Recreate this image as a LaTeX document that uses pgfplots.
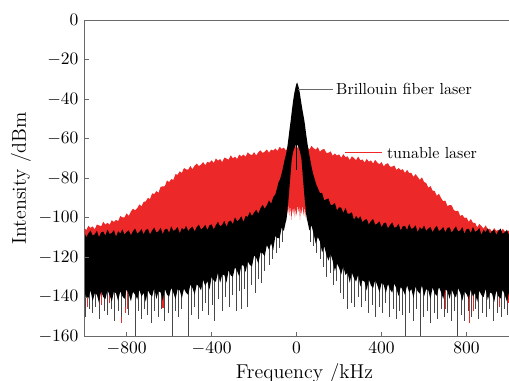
\documentclass[border=0pt]{standalone}
\usepackage{fontspec}
\usepackage{pgfplots}
\pgfplotsset{compat=1.18}
\definecolor{redl}{RGB}{237,40,40}
\definecolor{axgray}{RGB}{105,105,105}
\begin{document}
\begin{tikzpicture}
\begin{axis}[name=ax, scale only axis, width=276pt, height=197.9pt,
  xmin=-1000, xmax=1078, ymin=-160, ymax=0,
  xtick={-800,-400,0,400,800}, ytick={-160,-140,-120,-100,-80,-60,-40,-20,0},
  xtick pos=lower, ytick pos=left,
  axis line style={axgray, line width=0.6pt},
  tick style={axgray, line width=0.6pt}, major tick length=3pt,
  tick label style={black, font=\fontsize{11}{13}\selectfont},
  xlabel={Frequency /kHz}, ylabel={Intensity /dBm},
  every axis x label/.style={at={(axis description cs:0.499,0)}, anchor=base, yshift=-26.2pt, inner sep=0pt, font=\fontsize{12.5}{15}\selectfont},
  every axis y label/.style={at={(axis description cs:-0.1317,0.5)}, rotate=90, anchor=base, inner sep=0pt, font=\fontsize{12.5}{15}\selectfont},
  axis on top, clip=true]
% tunable laser (red)
\addplot[draw=none, fill=redl] coordinates {
(-1000,-104.9) (-990,-106.2) (-980,-104.0) (-970,-105.1) (-960,-104.3) (-950,-105.8) (-940,-103.4) (-930,-103.8) (-920,-104.3) (-910,-102.0) (-900,-103.4) (-890,-102.5) (-880,-103.5) (-870,-101.2) (-860,-102.1) (-850,-101.0) (-840,-101.7) (-830,-99.1) (-820,-99.7) (-810,-99.7) (-800,-97.8) (-790,-99.0) (-780,-96.8) (-770,-95.4) (-760,-96.2) (-750,-95.1) (-740,-93.2) (-730,-94.2) (-720,-91.9) (-710,-91.7) (-700,-89.9) (-690,-90.5) (-680,-87.6) (-670,-88.0) (-660,-86.5) (-650,-87.3) (-640,-84.3) (-630,-84.1) (-620,-84.0) (-610,-81.1) (-600,-81.9) (-590,-80.4) (-580,-80.8) (-570,-77.9) (-560,-78.2) (-550,-76.5) (-540,-77.3) (-530,-74.8) (-520,-75.5) (-510,-75.6) (-500,-73.8) (-490,-75.4) (-480,-73.6) (-470,-72.6) (-460,-73.8) (-450,-73.1) (-440,-71.8) (-430,-73.4) (-420,-71.7) (-410,-72.1) (-400,-70.9) (-390,-72.2) (-380,-70.0) (-370,-71.1) (-360,-70.3) (-350,-71.8) (-340,-69.5) (-330,-70.0) (-320,-70.6) (-310,-68.4) (-300,-69.9) (-290,-69.1) (-280,-70.2) (-270,-68.0) (-260,-69.0) (-250,-68.0) (-240,-69.1) (-230,-66.9) (-220,-67.9) (-210,-68.3) (-200,-66.8) (-190,-68.5) (-180,-66.8) (-170,-65.9) (-160,-67.2) (-150,-66.6) (-140,-65.4) (-130,-67.1) (-120,-65.5) (-110,-66.0) (-100,-64.9) (-90,-66.2) (-80,-64.1) (-70,-65.2) (-60,-64.5) (-50,-66.0) (-40,-63.8) (-30,-64.4) (-20,-65.1) (-10,-63.1) (0,-64.7) (10,-64.2) (20,-65.5) (30,-63.6) (40,-64.8) (50,-64.1) (60,-65.5) (70,-63.6) (80,-64.8) (90,-65.5) (100,-64.3) (110,-66.6) (120,-65.5) (130,-65.2) (140,-67.1) (150,-67.1) (160,-66.4) (170,-68.6) (180,-67.5) (190,-68.5) (200,-67.9) (210,-69.6) (220,-67.8) (230,-69.3) (240,-68.9) (250,-70.8) (260,-68.9) (270,-69.8) (280,-70.8) (290,-69.0) (300,-70.9) (310,-70.5) (320,-72.0) (330,-70.2) (340,-71.6) (350,-71.0) (360,-72.5) (370,-70.7) (380,-72.1) (390,-72.9) (400,-71.8) (410,-74.0) (420,-72.8) (430,-72.4) (440,-74.2) (450,-74.1) (460,-73.5) (470,-75.8) (480,-74.8) (490,-75.9) (500,-75.4) (510,-77.3) (520,-75.7) (530,-77.4) (540,-77.2) (550,-79.3) (560,-77.9) (570,-79.3) (580,-80.8) (590,-79.5) (600,-81.9) (610,-82.4) (620,-84.8) (630,-83.9) (640,-86.2) (650,-86.5) (660,-88.8) (670,-87.8) (680,-90.0) (690,-91.6) (700,-91.3) (710,-94.1) (720,-93.5) (730,-93.7) (740,-96.1) (750,-96.6) (760,-96.4) (770,-99.1) (780,-98.5) (790,-100.0) (800,-99.9) (810,-102.0) (820,-100.6) (830,-102.5) (840,-102.5) (850,-104.8) (860,-103.1) (870,-104.2) (880,-105.4) (890,-103.8) (900,-105.9) (910,-105.5) (920,-107.0) (930,-105.2) (940,-106.6) (950,-106.0) (960,-107.4) (970,-105.5) (980,-106.8) (990,-107.5) (1000,-106.3) (1010,-107.2)
(1010,-132) (800,-131.5) (600,-131) (400,-128) (300,-126) (227,-122) (148,-113) (100,-107) (60,-100) (48,-97) (44,-96) (40,-100) (36,-94) (32,-99) (28,-93) (24,-98) (20,-95) (16,-101) (12,-94) (8,-97) (4,-93) (0,-99) (-4,-95) (-8,-100) (-12,-94) (-16,-98) (-20,-95) (-24,-101) (-28,-94) (-32,-99) (-36,-93) (-40,-98) (-44,-96) (-48,-97) (-60,-100) (-100,-106) (-135,-111) (-210,-118) (-290,-123) (-370,-126) (-526,-132) (-700,-133) (-1000,-134)
} -- cycle;
% red spikes below the noise floor
\addplot[redl, line width=0.7pt, unbounded coords=jump] coordinates {
(-997,-130) (-997,-147) (-997,nan) (-986,-130) (-986,-145) (-986,nan) (-918,-130) (-918,-144) (-918,nan) (-880,-130) (-880,-143) (-880,nan) (-826,-130) (-826,-153) (-826,nan) (-806,-130) (-806,-148) (-806,nan) (-795,-130) (-795,-146) (-795,nan) (-629,-130) (-629,-145.5) (-629,nan) (702,-130) (702,-146) (702,nan) (815,-130) (815,-153) (815,nan) (832,-130) (832,-147) (832,nan) (957,-130) (957,-145) (957,nan) (996,-130) (996,-143)
};
% black spikes below the noise floor
\addplot[black!72, line width=0.6pt, unbounded coords=jump] coordinates {
(-992,-130) (-992,-150) (-992,nan) (-975,-130) (-975,-146) (-975,nan) (-960,-130) (-960,-148) (-960,nan) (-945,-130) (-945,-145) (-945,nan) (-930,-130) (-930,-151) (-930,nan) (-905,-130) (-905,-147) (-905,nan) (-890,-130) (-890,-149) (-890,nan) (-870,-130) (-870,-146) (-870,nan) (-855,-130) (-855,-152) (-855,nan) (-840,-130) (-840,-147) (-840,nan) (-822,-130) (-822,-150) (-822,nan) (-805,-130) (-805,-145) (-805,nan) (-790,-130) (-790,-149) (-790,nan) (-756,-130) (-756,-160) (-756,nan) (-745,-130) (-745,-147) (-745,nan) (-730,-130) (-730,-151) (-730,nan) (-715,-130) (-715,-146) (-715,nan) (-700,-130) (-700,-149) (-700,nan) (-685,-130) (-685,-153) (-685,nan) (-668,-130) (-668,-147) (-668,nan) (-650,-130) (-650,-150) (-650,nan) (-635,-130) (-635,-146) (-635,nan) (-620,-130) (-620,-152) (-620,nan) (-605,-130) (-605,-148) (-605,nan) (-585,-130) (-585,-160) (-585,nan) (-570,-130) (-570,-147) (-570,nan) (-555,-130) (-555,-150) (-555,nan) (-540,-130) (-540,-146) (-540,nan) (-508,-128) (-508,-160) (-508,nan) (-495,-128) (-495,-149) (-495,nan) (-480,-127) (-480,-145) (-480,nan) (-462,-127) (-462,-151) (-462,nan) (-445,-126) (-445,-147) (-445,nan) (-430,-125) (-430,-143) (-430,nan) (-415,-125) (-415,-149) (-415,nan) (-398,-124) (-398,-144) (-398,nan) (-385,-124) (-385,-152) (-385,nan) (-368,-123) (-368,-141) (-368,nan) (-350,-122) (-350,-147) (-350,nan) (-335,-122) (-335,-140) (-335,nan) (-318,-121) (-318,-145) (-318,nan) (-300,-121) (-300,-139) (-300,nan) (-285,-120) (-285,-147) (-285,nan) (-270,-119) (-270,-137) (-270,nan) (-258,-119) (-258,-146) (-258,nan) (-245,-118) (-245,-136) (-245,nan) (-232,-117) (-232,-145) (-232,nan) (-212,-115) (-212,-134) (-212,nan) (-195,-113) (-195,-138) (-195,nan) (-180,-113) (-180,-131) (-180,nan) (-165,-110) (-165,-133) (-165,nan) (-150,-109) (-150,-127) (-150,nan) (-130,-106) (-130,-124) (-130,nan) (-115,-104) (-115,-121) (-115,nan) (-95,-102) (-95,-118) (-95,nan) (-80,-100) (-80,-115) (-80,nan) (-65,-99) (-65,-112) (-65,nan)
(65,-99) (65,-112) (65,nan) (80,-100) (80,-114) (80,nan) (95,-104) (95,-118) (95,nan) (112,-106) (112,-121) (112,nan) (128,-109) (128,-125) (128,nan) (142,-111) (142,-130) (142,nan) (158,-113) (158,-128) (158,nan) (172,-116) (172,-134) (172,nan) (188,-118) (188,-132) (188,nan) (205,-119) (205,-138) (205,nan) (222,-121) (222,-141) (222,nan) (240,-122) (240,-146) (240,nan) (258,-123) (258,-143) (258,nan) (272,-124) (272,-145) (272,nan) (290,-125) (290,-140) (290,nan) (305,-126) (305,-145) (305,nan) (322,-126) (322,-142) (322,nan) (340,-127) (340,-148) (340,nan) (356,-127) (356,-144) (356,nan) (372,-128) (372,-150) (372,nan) (388,-128) (388,-145) (388,nan) (405,-129) (405,-148) (405,nan) (420,-129) (420,-143) (420,nan) (438,-129) (438,-150) (438,nan) (455,-130) (455,-146) (455,nan) (470,-130) (470,-151) (470,nan) (485,-130) (485,-147) (485,nan) (500,-130) (500,-149) (500,nan) (514,-130) (514,-160) (514,nan) (530,-130) (530,-148) (530,nan) (548,-130) (548,-152) (548,nan) (565,-130) (565,-146) (565,nan) (583,-130) (583,-160) (583,nan) (598,-130) (598,-150) (598,nan) (615,-130) (615,-147) (615,nan) (632,-130) (632,-153) (632,nan) (648,-130) (648,-148) (648,nan) (665,-130) (665,-151) (665,nan) (680,-130) (680,-146) (680,nan) (695,-130) (695,-150) (695,nan) (712,-130) (712,-148) (712,nan) (728,-130) (728,-152) (728,nan) (745,-130) (745,-147) (745,nan) (759,-130) (759,-160) (759,nan) (775,-130) (775,-149) (775,nan) (792,-130) (792,-152) (792,nan) (808,-130) (808,-147) (808,nan) (825,-130) (825,-150) (825,nan) (842,-130) (842,-146) (842,nan) (858,-130) (858,-151) (858,nan) (875,-130) (875,-148) (875,nan) (892,-130) (892,-150) (892,nan) (910,-130) (910,-146) (910,nan) (928,-130) (928,-152) (928,nan) (945,-130) (945,-148) (945,nan) (962,-130) (962,-150) (962,nan) (978,-130) (978,-146) (978,nan) (993,-130) (993,-149)
};
% Brillouin fiber laser (black)
\addplot[draw=none, fill=black] coordinates {
(-1000,-107.1) (-990,-109.8) (-980,-107.9) (-970,-106.4) (-960,-108.9) (-950,-108.3) (-940,-106.5) (-930,-109.7) (-920,-107.3) (-910,-107.0) (-900,-109.0) (-890,-105.9) (-880,-108.2) (-870,-107.6) (-860,-106.2) (-850,-109.5) (-840,-106.8) (-830,-107.9) (-820,-105.8) (-810,-108.5) (-800,-107.1) (-790,-106.3) (-780,-108.8) (-770,-106.7) (-760,-105.4) (-750,-108.0) (-740,-107.1) (-730,-105.7) (-720,-108.3) (-710,-106.1) (-700,-105.6) (-690,-108.3) (-680,-106.4) (-670,-104.9) (-660,-107.4) (-650,-106.8) (-640,-105.0) (-630,-108.2) (-620,-105.8) (-610,-105.5) (-600,-107.5) (-590,-104.3) (-580,-106.6) (-570,-106.0) (-560,-104.6) (-550,-107.8) (-540,-105.1) (-530,-106.1) (-520,-104.1) (-510,-106.7) (-500,-105.3) (-490,-104.4) (-480,-106.9) (-470,-104.7) (-460,-103.4) (-450,-105.9) (-440,-105.0) (-430,-103.5) (-420,-106.1) (-410,-103.8) (-400,-103.3) (-390,-105.8) (-380,-103.7) (-370,-102.0) (-360,-104.3) (-350,-103.5) (-340,-101.5) (-330,-104.5) (-320,-101.9) (-310,-101.4) (-300,-103.2) (-290,-99.7) (-280,-101.8) (-270,-100.8) (-260,-99.2) (-250,-102.1) (-240,-99.0) (-230,-99.5) (-220,-97.0) (-210,-99.1) (-200,-97.3) (-190,-95.9) (-180,-97.9) (-170,-95.2) (-160,-93.4) (-150,-95.4) (-140,-93.6) (-130,-91.2) (-120,-92.9) (-110,-89.5) (-100,-88.2) (-92,-85.0) (-85,-82.0) (-78,-80.5) (-70,-77.5) (-63,-74.0) (-56,-70.5) (-50,-68.0) (-44,-64.5) (-38,-59.5) (-33,-55.0) (-28,-51.0) (-22,-45.5) (-16,-40.5) (-10,-36.5) (-5,-34.0) (-1,-32.2) (3,-31.7) (7,-33.0) (12,-35.0) (16,-37.5) (20,-40.4) (26,-44.5) (31,-47.5) (36,-50.5) (40,-53.5) (44,-57.0) (48,-60.0) (52,-63.0) (57,-66.5) (63,-70.0) (70,-74.0) (77,-77.5) (84,-80.0) (92,-83.0) (100,-85.0) (110,-87.5) (120,-87.4) (130,-91.2) (140,-90.6) (150,-90.2) (160,-93.4) (170,-93.5) (180,-92.4) (190,-96.3) (200,-94.6) (210,-94.9) (220,-97.5) (230,-95.0) (240,-97.9) (250,-97.9) (260,-97.2) (270,-101.0) (280,-99.0) (290,-100.6) (300,-99.2) (310,-102.2) (320,-101.1) (330,-100.6) (340,-103.4) (350,-101.6) (360,-100.6) (370,-103.5) (380,-102.9) (390,-101.8) (400,-104.7) (410,-102.7) (420,-102.4) (430,-105.3) (440,-103.6) (450,-102.3) (460,-105.0) (470,-104.6) (480,-103.0) (490,-106.4) (500,-104.2) (510,-104.0) (520,-106.1) (530,-103.1) (540,-105.6) (550,-105.1) (560,-103.8) (570,-107.2) (580,-104.7) (590,-105.8) (600,-103.9) (610,-106.6) (620,-105.4) (630,-104.6) (640,-107.3) (650,-105.2) (660,-104.0) (670,-106.7) (680,-105.9) (690,-104.6) (700,-107.3) (710,-105.1) (720,-104.8) (730,-107.5) (740,-105.8) (750,-104.3) (760,-106.9) (770,-106.4) (780,-104.7) (790,-108.0) (800,-105.7) (810,-105.5) (820,-107.6) (830,-104.6) (840,-107.0) (850,-106.5) (860,-105.2) (870,-108.6) (880,-106.0) (890,-107.2) (900,-105.2) (910,-108.0) (920,-106.7) (930,-106.0) (940,-108.6) (950,-106.6) (960,-105.4) (970,-108.1) (980,-107.3) (990,-106.0) (1000,-108.7) (1010,-106.5)
(1010,-138.0) (1000,-137.4) (990,-142.3) (980,-139.0) (970,-136.4) (960,-140.8) (950,-139.7) (940,-136.8) (930,-142.5) (920,-138.3) (910,-137.7) (900,-141.5) (890,-135.9) (880,-140.1) (870,-139.0) (860,-136.8) (850,-142.5) (840,-137.9) (830,-139.8) (820,-136.3) (810,-141.0) (800,-138.6) (790,-137.1) (780,-141.8) (770,-137.9) (760,-135.6) (750,-140.2) (740,-138.8) (730,-136.2) (720,-140.9) (710,-136.9) (700,-136.2) (690,-141.0) (680,-137.6) (670,-135.0) (660,-139.4) (650,-138.2) (640,-135.2) (630,-140.9) (620,-136.7) (610,-136.0) (600,-139.7) (590,-134.1) (580,-138.3) (570,-137.1) (560,-134.8) (550,-140.5) (540,-135.9) (530,-137.7) (520,-134.1) (510,-138.9) (500,-136.4) (490,-134.9) (480,-139.5) (470,-135.7) (460,-133.3) (450,-137.8) (440,-136.2) (430,-133.4) (420,-138.0) (410,-133.8) (400,-132.9) (390,-137.6) (380,-134.1) (370,-131.4) (360,-135.5) (350,-134.2) (340,-131.1) (330,-136.7) (320,-132.3) (310,-131.5) (300,-134.8) (290,-128.6) (280,-132.2) (270,-130.5) (260,-127.7) (250,-132.8) (240,-127.6) (230,-128.9) (220,-124.6) (210,-128.6) (200,-125.3) (190,-123.1) (180,-126.9) (170,-121.8) (160,-118.2) (150,-121.6) (140,-118.6) (130,-114.4) (120,-117.5) (110,-112.0) (100,-109.7) (90,-113.0) (80,-108.0) (70,-103.8) (60,-106.4) (52,-102.0) (48,-100.5) (44,-97.5) (42,-94.5) (40,-93.0) (36,-88.0) (30,-80.0) (23,-70.5) (16,-66.5) (8,-64.0) (0,-62.5) (-8,-64.0) (-16,-66.5) (-23,-70.5) (-30,-80.0) (-36,-88.0) (-40,-93.0) (-42,-94.5) (-44,-97.5) (-48,-101.0) (-52,-102.5) (-60,-106.7) (-70,-104.8) (-80,-110.2) (-90,-110.2) (-100,-109.1) (-110,-116.2) (-120,-112.9) (-130,-116.1) (-140,-113.7) (-150,-119.4) (-160,-117.9) (-170,-117.5) (-180,-123.1) (-190,-120.2) (-200,-119.0) (-210,-124.6) (-220,-123.8) (-230,-122.0) (-240,-127.4) (-250,-124.1) (-260,-124.0) (-270,-129.6) (-280,-126.9) (-290,-125.0) (-300,-129.8) (-310,-129.1) (-320,-126.5) (-330,-132.7) (-340,-128.9) (-350,-128.7) (-360,-132.8) (-370,-127.7) (-380,-132.3) (-390,-131.7) (-400,-129.9) (-410,-136.2) (-420,-132.0) (-430,-134.4) (-440,-131.3) (-450,-136.6) (-460,-134.6) (-470,-133.7) (-480,-138.8) (-490,-135.5) (-500,-133.7) (-510,-138.9) (-520,-137.9) (-530,-135.7) (-540,-140.6) (-550,-136.7) (-560,-136.1) (-570,-141.1) (-580,-137.8) (-590,-135.4) (-600,-139.8) (-610,-138.8) (-620,-135.9) (-630,-141.8) (-640,-137.7) (-650,-137.1) (-660,-141.0) (-670,-135.5) (-680,-139.8) (-690,-138.7) (-700,-136.6) (-710,-142.4) (-720,-137.9) (-730,-139.8) (-740,-136.3) (-750,-141.2) (-760,-138.8) (-770,-137.4) (-780,-142.2) (-790,-138.4) (-800,-136.2) (-810,-141.0) (-820,-139.6) (-830,-137.1) (-840,-142.0) (-850,-138.1) (-860,-137.4) (-870,-142.4) (-880,-139.1) (-890,-136.6) (-900,-141.1) (-910,-140.0) (-920,-137.1) (-930,-143.0) (-940,-138.8) (-950,-138.2) (-960,-142.1) (-970,-136.6) (-980,-140.8) (-990,-139.8) (-1000,-137.6)
} -- cycle;
% thin dark line in the middle of the peak
\addplot[black, line width=0.6pt] coordinates {(1,-62) (1,-76)};
% annotation leaders
\addplot[axgray, line width=0.6pt] coordinates {(6,-34.9) (171,-34.9)};
\addplot[redl, line width=0.6pt] coordinates {(227,-67.2) (402,-67.2)};
\node[anchor=west, inner sep=0pt] at (axis cs:185,-34.9) {Brillouin fiber laser};
\node[anchor=west, inner sep=0pt] at (axis cs:424,-67.2) {tunable laser};
\end{axis}
\pgfresetboundingbox
\path[use as bounding box] ([shift={(-52.6pt,-27.7pt)}]ax.south west) rectangle ([shift={(265.6pt,210.4pt)}]ax.south west);
\end{tikzpicture}
\end{document}
